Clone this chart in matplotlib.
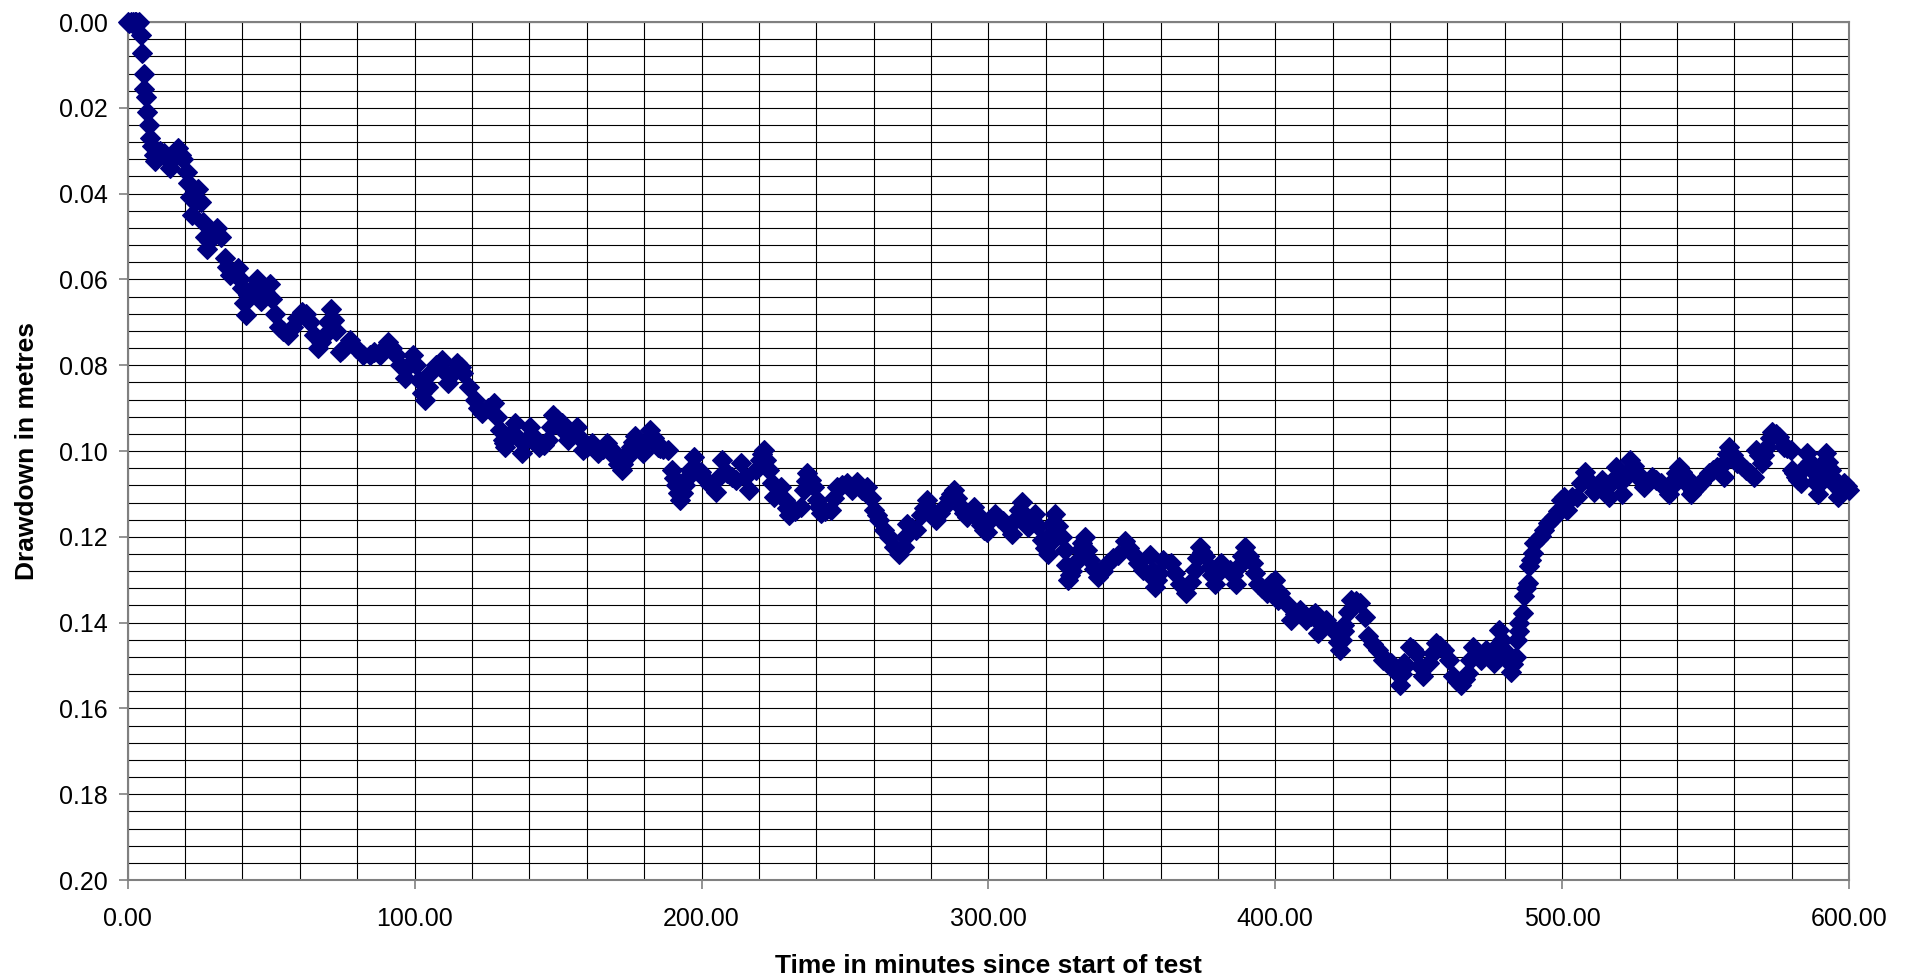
import matplotlib.pyplot as plt
from matplotlib.ticker import MultipleLocator, FormatStrFormatter
import numpy as np

# ==============================
# DATA, one list pair per 100 minutes
# ==============================
t_000 = [0.0, 0.5, 1.0, 1.5, 2.0, 2.5, 3.0, 3.5, 4.0, 4.5, 4.9, 5.5, 5.8, 6.3, 6.6,
         7.3, 7.8, 8.4, 9.0, 9.5, 10.2, 11.3, 12.5, 13.6, 14.7, 15.8, 17.0, 17.6,
         18.5, 19.4, 20.5, 21.0, 21.7, 22.3, 23.5, 24.6, 25.5, 26.3, 27.5, 28.5,
         29.8, 31.0, 32.5, 33.9, 35.6, 37.0, 38.5, 40.0, 41.4, 42.0, 43.5, 44.9,
         46.6, 48.0, 49.5, 51.3, 52.8, 54.2, 55.9, 57.5, 59.0, 60.6, 62.0, 63.5,
         65.0, 66.4, 68.7, 71.0, 72.7, 73.9, 75.5, 77.4, 79.7, 82.0, 84.3, 86.0,
         87.8, 89.2, 90.7, 92.2, 93.6, 95.0, 96.5, 98.0, 99.4]
dd_000 = [0.0000, 0.0002, 0.0000, 0.0003, 0.0001, 0.0000, 0.0000, 0.0002, 0.0000,
          0.0031, 0.0071, 0.0120, 0.0156, 0.0174, 0.0209, 0.0240, 0.0270, 0.0290,
          0.0310, 0.0325, 0.0312, 0.0300, 0.0305, 0.0320, 0.0340, 0.0320, 0.0305,
          0.0294, 0.0310, 0.0320, 0.0350, 0.0376, 0.0407, 0.0450, 0.0420, 0.0390,
          0.0420, 0.0465, 0.0528, 0.0510, 0.0490, 0.0480, 0.0500, 0.0550, 0.0590,
          0.0585, 0.0574, 0.0620, 0.0683, 0.0636, 0.0620, 0.0600, 0.0650, 0.0630,
          0.0610, 0.0680, 0.0710, 0.0720, 0.0730, 0.0710, 0.0690, 0.0675, 0.0680,
          0.0700, 0.0730, 0.0760, 0.0730, 0.0668, 0.0720, 0.0770, 0.0760, 0.0740,
          0.0760, 0.0775, 0.0777, 0.0770, 0.0777, 0.0760, 0.0745, 0.0760, 0.0777,
          0.0800, 0.0830, 0.0800, 0.0777]

t_100 = [100.5, 101.4, 102.5, 103.7, 104.6, 105.5, 107.5, 109.5, 110.6, 111.8,
         113.2, 114.7, 116.0, 117.0, 118.8, 121.1, 122.2, 123.4, 125.5, 127.5,
         128.6, 129.8, 130.7, 131.6, 133.3, 135.0, 136.2, 137.4, 138.8, 140.3,
         141.8, 143.2, 145.0, 146.6, 148.4, 149.8, 151.3, 152.5, 153.6, 155.0,
         156.5, 157.6, 158.8, 160.2, 161.7, 162.8, 164.0, 165.5, 166.9, 168.3,
         169.8, 171.0, 172.2, 173.9, 175.3, 176.8, 178.2, 179.7, 180.8, 182.0,
         183.5, 184.9, 186.6, 188.4, 189.6, 191.0, 192.5, 194.2, 195.9, 197.4,
         198.6]
dd_100 = [0.0800, 0.0834, 0.0865, 0.0880, 0.0850, 0.0819, 0.0800, 0.0788, 0.0815,
          0.0842, 0.0820, 0.0795, 0.0805, 0.0819, 0.0850, 0.0880, 0.0900, 0.0912,
          0.0900, 0.0889, 0.0920, 0.0950, 0.0975, 0.0990, 0.0960, 0.0935, 0.0970,
          0.1005, 0.0975, 0.0943, 0.0970, 0.0990, 0.0985, 0.0974, 0.0916, 0.0925,
          0.0935, 0.0955, 0.0974, 0.0960, 0.0943, 0.0970, 0.0997, 0.0990, 0.0982,
          0.0995, 0.1005, 0.0995, 0.0982, 0.0995, 0.1013, 0.1030, 0.1044, 0.1013,
          0.0990, 0.0966, 0.0985, 0.1005, 0.0980, 0.0951, 0.0970, 0.0990, 0.0995,
          0.0997, 0.1044, 0.1080, 0.1114, 0.1080, 0.1044, 0.1013, 0.1044]

t_200 = [200.9, 203.0, 205.0, 206.2, 207.3, 209.0, 210.5, 212.0, 213.7, 215.2,
         216.6, 218.9, 220.5, 221.8, 223.5, 225.3, 227.6, 229.0, 230.5, 232.5,
         234.6, 235.8, 236.9, 239.2, 240.3, 241.5, 243.2, 245.0, 246.2, 247.3,
         249.0, 250.8, 252.5, 254.3, 256.0, 257.8, 259.0, 260.1, 262.0, 263.6,
         265.3, 267.1, 268.8, 270.5, 271.7, 273.2, 274.6, 276.6, 278.7, 280.2,
         281.6, 283.0, 284.5, 286.3, 288.0, 289.2, 290.3, 291.5, 292.6, 294.9,
         296.6, 298.4, 299.4]
dd_200 = [0.1063, 0.1080, 0.1095, 0.1060, 0.1021, 0.1052, 0.1060, 0.1067, 0.1028,
          0.1060, 0.1091, 0.1044, 0.1020, 0.0997, 0.1044, 0.1106, 0.1083, 0.1115,
          0.1149, 0.1140, 0.1130, 0.1090, 0.1052, 0.1083, 0.1115, 0.1145, 0.1140,
          0.1137, 0.1110, 0.1083, 0.1080, 0.1075, 0.1090, 0.1071, 0.1090, 0.1083,
          0.1110, 0.1137, 0.1160, 0.1184, 0.1200, 0.1223, 0.1239, 0.1223, 0.1169,
          0.1180, 0.1184, 0.1150, 0.1114, 0.1140, 0.1161, 0.1145, 0.1130, 0.1110,
          0.1091, 0.1110, 0.1130, 0.1145, 0.1153, 0.1130, 0.1160, 0.1184, 0.1189]

t_300 = [300.7, 302.3, 303.8, 305.2, 306.6, 308.1, 309.8, 311.6, 312.8, 313.9,
         315.0, 316.2, 317.4, 318.6, 319.8, 320.9, 322.0, 323.2, 324.4, 325.5,
         326.7, 327.8, 329.0, 330.2, 331.9, 333.6, 334.5, 335.4, 336.8, 338.3,
         340.0, 341.8, 343.5, 345.2, 347.6, 349.0, 350.5, 352.2, 354.0, 356.3,
         357.2, 358.0, 359.5, 361.0, 363.8, 365.2, 366.7, 369.0, 370.5, 371.9,
         373.7, 375.4, 377.1, 378.9, 381.2, 384.1, 385.3, 386.4, 387.8, 389.3,
         390.8, 392.2, 394.0, 395.5, 397.0, 398.6, 399.8]
dd_300 = [0.1161, 0.1146, 0.1155, 0.1162, 0.1175, 0.1193, 0.1155, 0.1119, 0.1150,
          0.1177, 0.1160, 0.1146, 0.1175, 0.1208, 0.1225, 0.1239, 0.1190, 0.1146,
          0.1175, 0.1200, 0.1231, 0.1301, 0.1280, 0.1262, 0.1230, 0.1200, 0.1230,
          0.1255, 0.1275, 0.1294, 0.1280, 0.1262, 0.1250, 0.1243, 0.1210, 0.1225,
          0.1239, 0.1260, 0.1278, 0.1243, 0.1280, 0.1317, 0.1285, 0.1255, 0.1262,
          0.1285, 0.1309, 0.1332, 0.1305, 0.1278, 0.1224, 0.1245, 0.1270, 0.1309,
          0.1262, 0.1278, 0.1290, 0.1309, 0.1265, 0.1224, 0.1245, 0.1262, 0.1309,
          0.1320, 0.1332, 0.1308, 0.1300]

t_400 = [400.9, 401.5, 403.8, 405.6, 407.0, 408.5, 410.8, 412.3, 413.7, 414.8,
         416.2, 417.7, 419.5, 421.2, 422.4, 423.4, 424.1, 425.2, 426.5, 428.0,
         429.4, 431.1, 432.3, 434.0, 435.7, 437.5, 439.0, 440.4, 441.5, 443.3,
         444.2, 445.0, 446.8, 449.1, 450.3, 451.4, 453.7, 456.0, 458.9, 460.7,
         461.8, 463.2, 464.7, 467.1, 468.8, 470.2, 471.7, 473.4, 474.8, 476.3,
         478.1, 479.8, 481.0, 482.1, 483.9, 484.4, 485.0, 486.2, 486.8, 488.0,
         488.5, 489.7, 490.3, 491.5, 492.6, 493.8, 494.9, 496.0, 497.2, 498.5]
dd_400 = [0.1348, 0.1331, 0.1355, 0.1393, 0.1380, 0.1370, 0.1393, 0.1385, 0.1378,
          0.1424, 0.1405, 0.1393, 0.1410, 0.1424, 0.1463, 0.1440, 0.1405, 0.1375,
          0.1347, 0.1350, 0.1355, 0.1386, 0.1432, 0.1450, 0.1463, 0.1487, 0.1490,
          0.1494, 0.1510, 0.1545, 0.1520, 0.1494, 0.1456, 0.1471, 0.1500, 0.1525,
          0.1494, 0.1448, 0.1463, 0.1487, 0.1525, 0.1535, 0.1545, 0.1518, 0.1456,
          0.1470, 0.1487, 0.1463, 0.1480, 0.1494, 0.1417, 0.1463, 0.1490, 0.1514,
          0.1479, 0.1440, 0.1401, 0.1378, 0.1339, 0.1308, 0.1269, 0.1238, 0.1215,
          0.1205, 0.1199, 0.1185, 0.1168, 0.1160, 0.1153, 0.1140]

t_500 = [499.5, 500.6, 501.7, 503.5, 505.2, 506.6, 508.1, 509.5, 511.0, 512.5,
         513.9, 515.1, 516.3, 517.5, 518.6, 519.8, 520.9, 522.3, 523.8, 525.0,
         526.2, 527.3, 528.5, 530.0, 531.4, 532.8, 534.3, 535.8, 537.2, 539.0,
         540.7, 543.0, 544.8, 546.5, 548.3, 549.8, 551.2, 552.6, 554.1, 556.4,
         558.1, 559.5, 561.0, 562.5, 564.0, 565.5, 566.9, 567.4, 569.8, 571.5,
         573.3, 575.6, 577.3, 578.5, 579.7, 580.2, 581.6, 583.1, 585.5, 587.2,
         589.0, 590.5, 591.9, 593.6, 595.0, 596.0, 598.3, 600.0]
dd_500 = [0.1114, 0.1106, 0.1137, 0.1106, 0.1106, 0.1075, 0.1048, 0.1070, 0.1095,
          0.1080, 0.1068, 0.1085, 0.1106, 0.1070, 0.1037, 0.1070, 0.1099, 0.1060,
          0.1021, 0.1035, 0.1052, 0.1068, 0.1083, 0.1072, 0.1060, 0.1068, 0.1075,
          0.1087, 0.1099, 0.1068, 0.1037, 0.1060, 0.1099, 0.1087, 0.1075, 0.1063,
          0.1052, 0.1045, 0.1037, 0.1060, 0.0990, 0.1010, 0.1029, 0.1036, 0.1044,
          0.1052, 0.1060, 0.0998, 0.1029, 0.0990, 0.0955, 0.0967, 0.0990, 0.0994,
          0.0998, 0.1044, 0.1060, 0.1075, 0.1005, 0.1044, 0.1099, 0.1050, 0.1005,
          0.1044, 0.1080, 0.1106, 0.1075, 0.1090]

# readings taken between the peaks and dips above
t_between = [27.0, 29.0, 34.7, 39.2, 40.7, 42.7, 45.7, 47.3, 50.4, 67.5, 69.8,
             72.0, 74.7, 131.2, 147.5, 172.8, 174.6, 176.0, 185.7, 190.3, 191.8,
             193.4, 195.0, 199.8, 221.0, 222.6, 224.4, 229.8, 236.3, 238.0, 240.9,
             261.0, 270.9, 277.6, 287.1, 295.7, 297.5, 310.7, 321.5, 322.6, 327.2,
             328.4, 332.7, 357.6, 358.8, 372.8, 374.5, 378.0, 380.0, 388.5, 393.0,
             421.8, 423.8, 444.6, 448.0, 454.8, 457.5, 466.0, 468.0, 477.2, 478.9,
             480.5, 483.0, 484.8, 487.5, 489.2, 538.0, 539.8, 541.8, 543.9, 545.5,
             556.9, 557.5, 568.5, 570.5, 572.4, 574.5, 580.9, 582.3, 584.3, 586.3,
             588.1, 589.8, 590.9, 592.7, 594.3, 597.0, 599.2]
dd_between = [0.0500, 0.0500, 0.0570, 0.0600, 0.0655, 0.0628, 0.0625, 0.0640,
              0.0645, 0.0745, 0.0700, 0.0695, 0.0765, 0.0982, 0.0945, 0.1030,
              0.1000, 0.0978, 0.0993, 0.1062, 0.1097, 0.1097, 0.1062, 0.1050,
              0.1008, 0.1020, 0.1075, 0.1132, 0.1070, 0.1068, 0.1130, 0.1148,
              0.1200, 0.1132, 0.1100, 0.1145, 0.1172, 0.1137, 0.1215, 0.1168,
              0.1265, 0.1290, 0.1215, 0.1298, 0.1300, 0.1250, 0.1235, 0.1290,
              0.1285, 0.1245, 0.1285, 0.1445, 0.1420, 0.1505, 0.1462, 0.1470,
              0.1455, 0.1532, 0.1487, 0.1455, 0.1440, 0.1478, 0.1497, 0.1420,
              0.1320, 0.1253, 0.1083, 0.1052, 0.1048, 0.1080, 0.1093, 0.1025,
              0.1008, 0.1010, 0.1010, 0.0970, 0.0960, 0.1052, 0.1068, 0.1040,
              0.1025, 0.1072, 0.1075, 0.1028, 0.1025, 0.1062, 0.1090, 0.1082]

time_min = np.concatenate([t_000, t_100, t_200, t_300, t_400, t_500, t_between])
drawdown_m = np.concatenate([dd_000, dd_100, dd_200, dd_300, dd_400, dd_500, dd_between])

plt.rcParams["font.family"] = ["Liberation Sans", "DejaVu Sans"]

# ==============================
# PLOT
# ==============================
fig = plt.figure(figsize=(19.12, 9.80), dpi=100)
ax = fig.add_axes([0.0668, 0.102, 0.9003, 0.8755])

ax.plot(time_min, drawdown_m, linestyle="none", marker="D", markersize=10.5,
        color="#000080", markeredgecolor="#000080", markeredgewidth=0.8,
        zorder=3, clip_on=False)

ax.set_xlim(0, 600)
ax.set_ylim(0.20, 0.0)
ax.xaxis.set_major_locator(MultipleLocator(100))
ax.xaxis.set_minor_locator(MultipleLocator(20))
ax.yaxis.set_major_locator(MultipleLocator(0.02))
ax.yaxis.set_minor_locator(MultipleLocator(0.004))
ax.xaxis.set_major_formatter(FormatStrFormatter("%.2f"))
ax.yaxis.set_major_formatter(FormatStrFormatter("%.2f"))

ax.grid(which="both", color="black", linewidth=0.8)
ax.set_axisbelow(True)
ax.tick_params(which="minor", length=0)
ax.tick_params(which="major", direction="out", length=6.5, width=1.2,
               color="#808080", labelsize=18)
ax.tick_params(axis="x", pad=13)
ax.tick_params(axis="y", pad=8)
for s in ax.spines.values():
    s.set_color("#808080")
    s.set_linewidth(1.5)

ax.set_xlabel("Time in minutes since start of test", fontsize=19, fontweight="bold")
ax.set_ylabel("Drawdown in metres", fontsize=19, fontweight="bold")
ax.xaxis.set_label_coords(0.5, -0.1002)
ax.xaxis.label.set_va("center")
ax.yaxis.set_label_coords(-0.0585, 0.5)
ax.yaxis.label.set_va("center")

fig.savefig("out.png", dpi=100)
plt.close()
